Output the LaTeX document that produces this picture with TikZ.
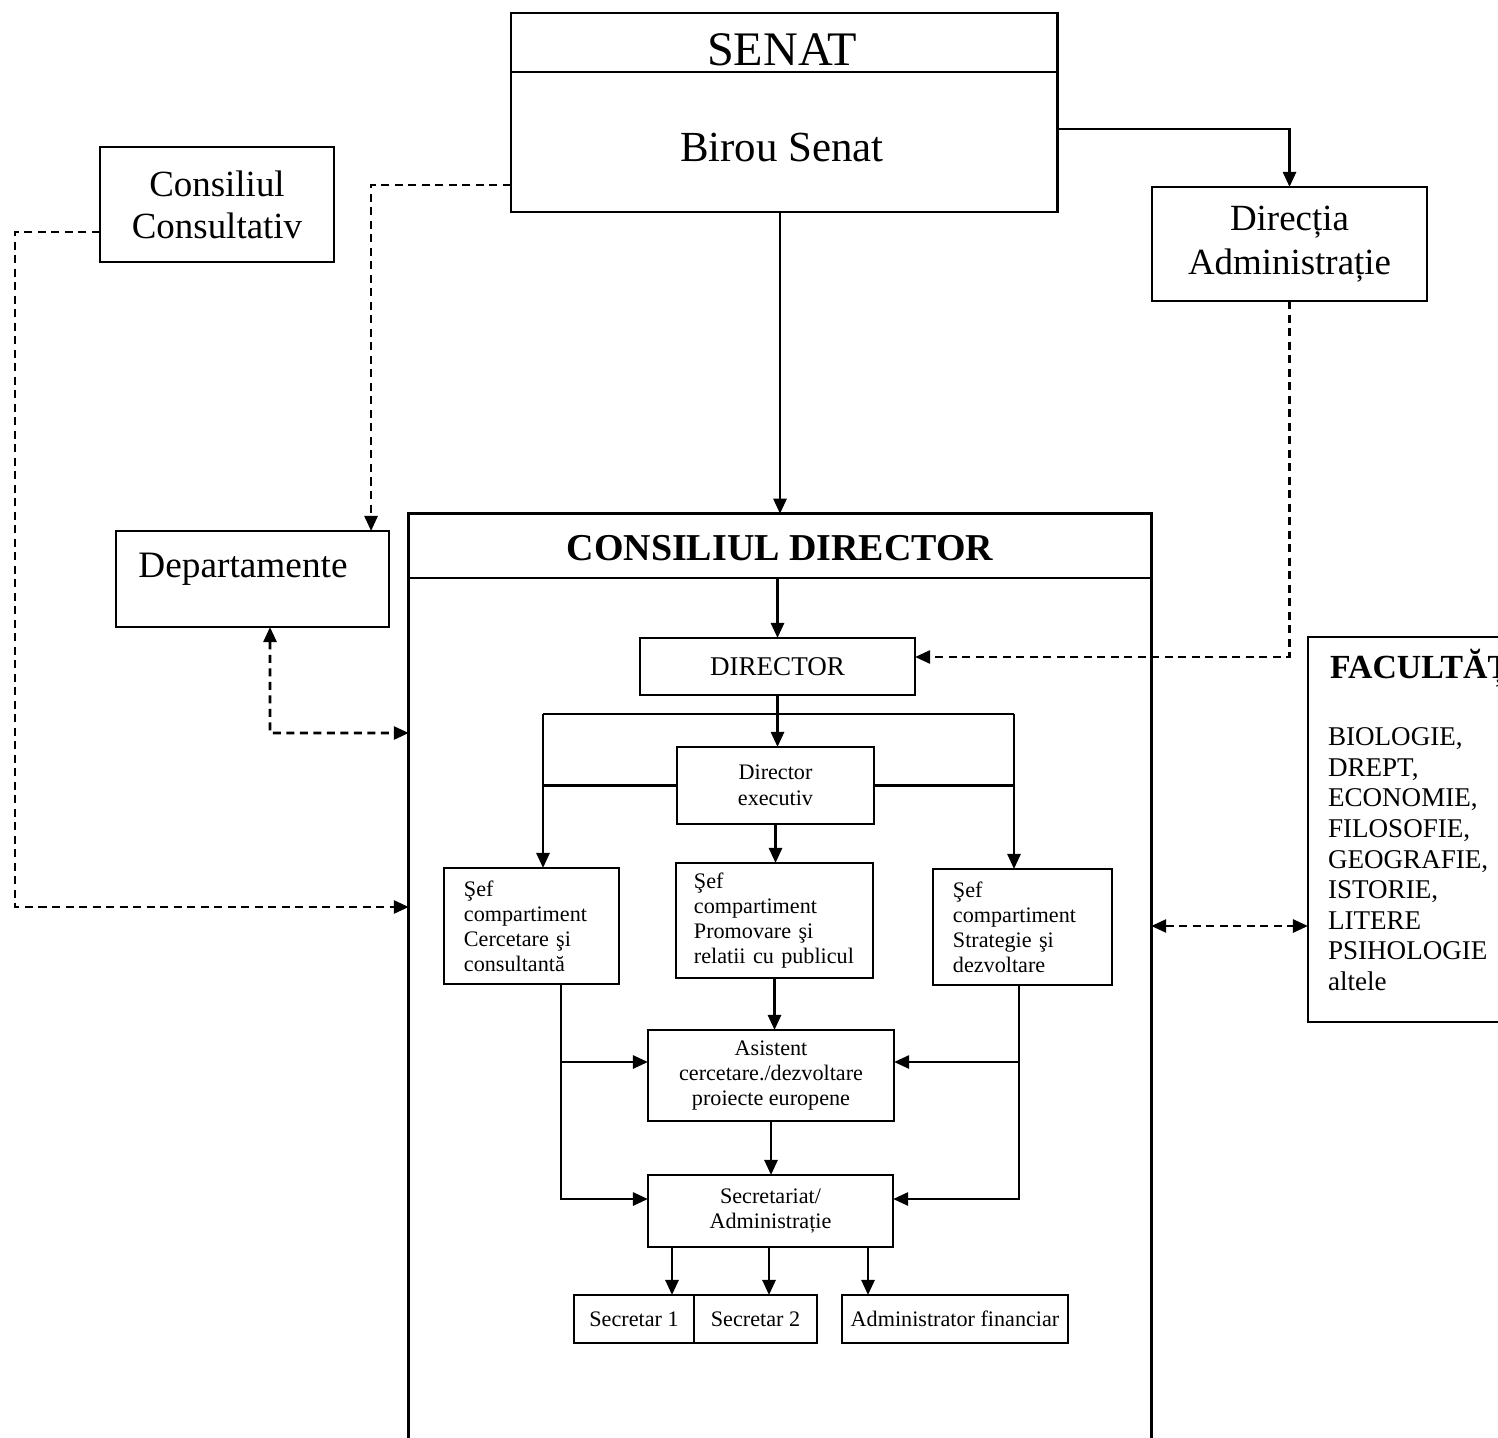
\documentclass[tikz,border=0pt]{standalone}
\usepackage{fontspec}
\setmainfont{Liberation Serif}
\usetikzlibrary{arrows.meta}
\newcommand\fs[2]{\fontsize{#1}{#2}\selectfont}
\tikzset{
  box/.style={draw, line width=0.75pt, inner sep=0pt, outer sep=0pt},
  ln/.style={line width=0.75pt},
  arr/.style={line width=0.75pt, -{Triangle[length=0.15cm,width=0.13cm]}},
  dbl/.style={line width=0.75pt, {Triangle[length=0.15cm,width=0.13cm]}-{Triangle[length=0.15cm,width=0.13cm]}},
  dsh/.style={dash pattern=on 0.08cm off 0.055cm},
  txt/.style={inner sep=0pt, outer sep=0pt},
  sefbox/.style={box, align=left, inner xsep=0.2cm, font=\fs{6.3}{7.1}},
}
\begin{document}
\begin{tikzpicture}[x=0.01cm, y=-0.01cm]
\useasboundingbox (0,0) rectangle (1498,1437);
\fill[white] (0,0) rectangle (1498,1437);
\clip (0,0) rectangle (1498,1437);

% SENAT
\node[box, minimum width=5.46cm, minimum height=1.99cm] (senat) at (784,112.5) {};
\draw[ln] (senat.west |- 0,72) -- (senat.east |- 0,72);
\node[txt, font=\fs{13.7}{16}] (senatT) at (782,50) {SENAT};
\node[txt, font=\fs{12.2}{14}] (birou) at (782,148) {Birou Senat};

% side boxes
\node[box, minimum width=2.34cm, minimum height=1.15cm, align=center, font=\fs{10.5}{12}] (cc) at (217,204.5) {Consiliul\\Consultativ};
\node[box, minimum width=2.75cm, minimum height=1.14cm, align=center, font=\fs{10.5}{12.5}] (da) at (1289.5,244) {Direcția\\Administrație};
\node[box, minimum width=2.73cm, minimum height=0.96cm] (dep) at (252.5,579) {};
\node[txt, anchor=base, font=\fs{10.6}{12}] (depT) at (243,577) {Departamente};

% Consiliul director
\node[box, minimum width=7.42cm, minimum height=9.46cm] (cd) at (780,987) {};
\draw[ln] (cd.west |- 0,578) -- (cd.east |- 0,578);
\node[txt, font=\bfseries\fs{10.8}{12}] (cdT) at (780,548) {CONSILIUL DIRECTOR};

\node[box, minimum width=2.75cm, minimum height=0.57cm, font=\fs{7.7}{9}] (dir) at (777.5,666.5) {DIRECTOR};
\node[box, minimum width=1.97cm, minimum height=0.77cm, align=center, font=\fs{6.3}{7.4}] (dexe) at (775.5,785.5) {Director\\executiv};
\node[sefbox, text width=1.35cm, minimum height=1.16cm] (sef1) at (531.5,926) {Şef\\compartiment\\Cercetare şi\\consultantă};
\node[sefbox, inner xsep=0.18cm, text width=1.61cm, minimum height=1.15cm] (sef2) at (774.5,920.5) {Şef\\compartiment\\Promovare şi\\\mbox{relatii cu publicul}};
\node[sefbox, text width=1.39cm, minimum height=1.16cm] (sef3) at (1022.5,927) {Şef\\compartiment\\Strategie şi\\dezvoltare};
\node[box, minimum width=2.46cm, minimum height=0.91cm, align=center, font=\fs{6.3}{7}] (asist) at (771,1075.5) {Asistent\\cercetare./dezvoltare\\proiecte europene};
\node[box, minimum width=2.45cm, minimum height=0.72cm, align=center, font=\fs{6.3}{7.1}] (secr) at (770.5,1211) {Secretariat/\\Administrație};
\node[box, minimum width=1.2cm, minimum height=0.48cm, font=\fs{6.3}{7}] (s1) at (634,1319) {Secretar 1};
\node[box, minimum width=1.23cm, minimum height=0.48cm, font=\fs{6.3}{7}] (s2) at (755.5,1319) {Secretar 2};
\node[box, minimum width=2.26cm, minimum height=0.48cm, font=\fs{6.3}{7}] (adm) at (955,1319) {Administrator financiar};

% Facultati
\node[box, minimum width=2.52cm, minimum height=3.85cm] (fac) at (1434,829.5) {};
\node[txt, anchor=base west, font=\bfseries\fs{9.6}{10}] (facT) at (1330,678) {FACULTĂȚI};
\node[txt, anchor=north west, align=left, font=\fs{7.7}{8.68}] (facL) at (1328,728) {BIOLOGIE,\\DREPT,\\ECONOMIE,\\FILOSOFIE,\\GEOGRAFIE,\\ISTORIE,\\LITERE\\PSIHOLOGIE\\altele};

% coordinates
\coordinate (ccL) at (15,907);
\coordinate (depL) at (270,733);
\coordinate (barL) at (543,714);
\coordinate (barR) at (1014,714);
\coordinate (jA) at (561,1062);
\coordinate (jB) at (1019,1062);
\coordinate (jS) at (0,1199);
\coordinate (x1) at (672,0);
\coordinate (x2) at (769,0);
\coordinate (x3) at (868,0);

% connectors outside
\draw[arr] (senat.south -| cd.north) -- (cd.north);
\draw[arr] ([yshift=-0.165cm]senat.east) -| (da.north);
\draw[arr, dsh] ([yshift=-0.725cm]senat.west) -| ([xshift=1.185cm]dep.north);
\draw[arr, dsh] ([yshift=-0.275cm]cc.west) -| (ccL) -- (cd.west |- ccL);
\draw[dbl, dsh] ([xshift=0.175cm]dep.south) -- (depL) -- (cd.west |- depL);
\draw[arr, dsh] (da.south) |- ([yshift=0.095cm]dir.east);
\draw[dbl, dsh] (cd.east |- 0,926) -- (fac.west |- 0,926);

% connectors inside
\draw[arr] (dir.north |- 0,578) -- (dir.north);
\draw[arr] (dir.south) -- (dir.south |- dexe.north);
\draw[ln] (barL) -- (barR);
\draw[arr] (barL) -- (barL |- sef1.north);
\draw[arr] (barR) -- (barR |- sef3.north);
\draw[ln] (dexe.west) -- (dexe.west -| barL);
\draw[ln] (dexe.east) -- (dexe.east -| barR);
\draw[arr] (dexe.south) -- (dexe.south |- sef2.north);
\draw[arr] (sef2.south) -- (sef2.south |- asist.north);
\draw[arr] (sef1.south -| jA) |- (secr.west |- jS);
\draw[arr] (jA) -- (asist.west |- jA);
\draw[arr] (sef3.south -| jB) |- (secr.east |- jS);
\draw[arr] (jB) -- (asist.east |- jB);
\draw[arr] (asist.south) -- (asist.south |- secr.north);
\draw[arr] (secr.south -| x1) -- (s1.north -| x1);
\draw[arr] (secr.south -| x2) -- (s2.north -| x2);
\draw[arr] (secr.south -| x3) -- (adm.north -| x3);
\end{tikzpicture}
\end{document}
